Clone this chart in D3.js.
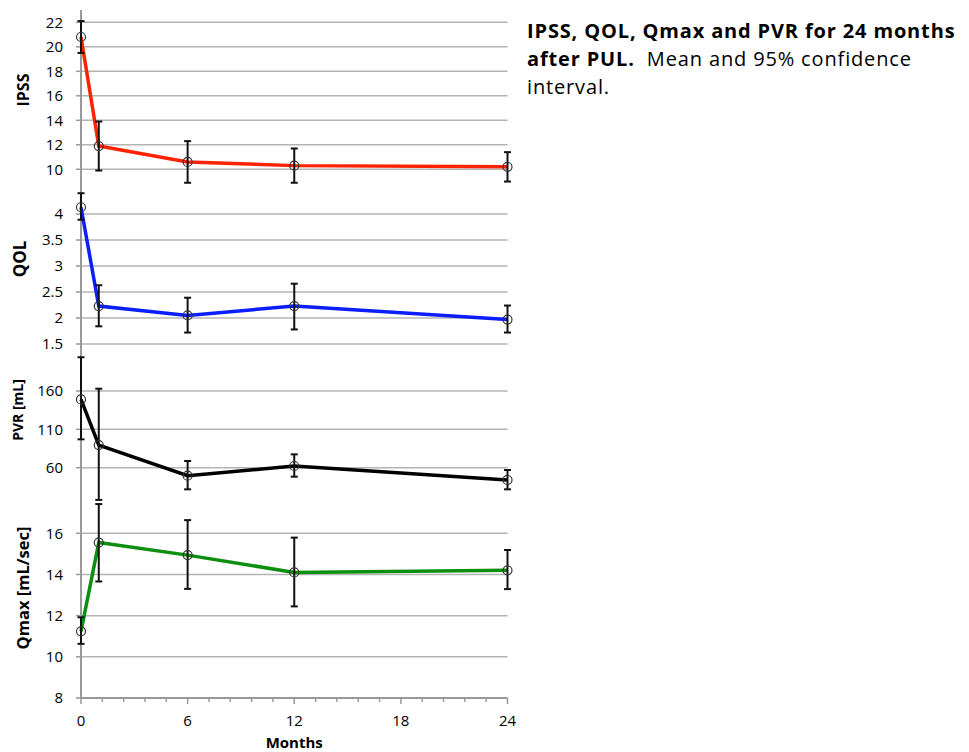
<!DOCTYPE html>
<meta charset="utf-8">
<head>
  <title>IPSS, QOL, Qmax and PVR after PUL</title>
</head>

<style>
body { margin: 0; background: #fff; }
text {
  font-family: "Open Sans", Lato, sans-serif;
  fill: #000;
}
.grid line { stroke: #b4b4b4; stroke-width: 1.5; }
.tick-label { font-size: 15px; }
.axis-title { font-weight: bold; }
.err { stroke: #111; stroke-width: 2; fill: none; }
.dot { fill: none; stroke: #333; stroke-width: 1.2; }
.caption { font-size: 20px; letter-spacing: 0.85px; }
</style>

<body>
  <svg width="969" height="752"></svg>

  <script src="https://d3js.org/d3.v7.min.js"></script>
  <script>
// months of follow-up
var months = [0, 1, 6, 12, 24];

var ipss     = [20.8, 11.9, 10.6, 10.3, 10.2];
var ipssLow  = [19.5, 9.9, 8.9, 8.9, 9.0];
var ipssHigh = [22.1, 13.9, 12.3, 11.7, 11.4];

var qol     = [4.13, 2.23, 2.05, 2.23, 1.97];
var qolLow  = [3.89, 1.84, 1.72, 1.78, 1.72];
var qolHigh = [4.40, 2.63, 2.39, 2.66, 2.24];

var pvr     = [149, 89.5, 49.6, 62.2, 44];
var pvrLow  = [97, 18, 31.8, 48.3, 31.8];
var pvrHigh = [204, 163, 68.7, 77.4, 57];

var qmax     = [11.24, 15.55, 14.94, 14.1, 14.2];
var qmaxLow  = [10.63, 13.66, 13.3, 12.45, 13.29];
var qmaxHigh = [11.92, 17.42, 16.64, 15.79, 15.19];

var ipssTicks = [10, 12, 14, 16, 18, 20, 22];
var qolTicks = [1.5, 2, 2.5, 3, 3.5, 4];
var pvrTicks = [60, 110, 160];
var qmaxTicks = [8, 10, 12, 14, 16];
var monthTicks = [0, 6, 12, 18, 24];

var svg = d3.select('svg');

var x = d3.scaleLinear().domain([0, 24]).range([81, 507.5]);

var panels = [
  { name: 'IPSS', mean: ipss, lo: ipssLow, hi: ipssHigh, ticks: ipssTicks,
    domain: [10, 22], range: [169.3, 22.3], color: '#ff2200', fmt: d3.format('d'),
    labelX: 29, labelY: 90, labelSize: 16 },
  { name: 'QOL', mean: qol, lo: qolLow, hi: qolHigh, ticks: qolTicks,
    domain: [1.5, 4], range: [344, 214], color: '#0a1eff', fmt: function(d) { return String(d); },
    labelX: 26, labelY: 259, labelSize: 17 },
  { name: 'PVR [mL]', mean: pvr, lo: pvrLow, hi: pvrHigh, ticks: pvrTicks,
    domain: [60, 160], range: [467.7, 391], color: '#000000', fmt: d3.format('d'),
    labelX: 23, labelY: 410, labelSize: 14 },
  { name: 'Qmax [mL/sec]', mean: qmax, lo: qmaxLow, hi: qmaxHigh, ticks: qmaxTicks,
    domain: [8, 16], range: [698, 533.3], color: '#0e8e0e', fmt: d3.format('d'),
    labelX: 29, labelY: 588, labelSize: 16.5 }
];

// gridlines and y labels first
panels.forEach(function(p) {
  p.y = d3.scaleLinear().domain(p.domain).range(p.range);
  var g = svg.append('g').attr('class', 'grid');
  g.selectAll('line')
    .data(p.ticks.filter(function(t) { return t !== 8; }))
    .enter().append('line')
    .attr('x1', x(0)).attr('x2', x(24))
    .attr('y1', function(d) { return p.y(d); })
    .attr('y2', function(d) { return p.y(d); });

  svg.append('g').selectAll('line')
    .data(p.ticks)
    .enter().append('line')
    .attr('x1', x(0) - 5).attr('x2', x(0))
    .attr('y1', function(d) { return p.y(d); })
    .attr('y2', function(d) { return p.y(d); })
    .attr('stroke', '#999').attr('stroke-width', 1.5);

  svg.append('g').selectAll('text')
    .data(p.ticks)
    .enter().append('text')
    .attr('class', 'tick-label')
    .attr('x', 63)
    .attr('y', function(d) { return p.y(d); })
    .attr('dy', '0.35em')
    .attr('text-anchor', 'end')
    .text(p.fmt);

  svg.append('text')
    .attr('class', 'axis-title')
    .style('font-size', p.labelSize + 'px')
    .attr('transform', 'translate(' + p.labelX + ',' + p.labelY + ') rotate(-90)')
    .attr('text-anchor', 'middle')
    .text(p.name);
});

// vertical axis line and x axis
svg.append('line')
  .attr('x1', x(0)).attr('x2', x(0))
  .attr('y1', 10).attr('y2', 698)
  .attr('stroke', '#999').attr('stroke-width', 2);

svg.append('line')
  .attr('x1', x(0)).attr('x2', x(24))
  .attr('y1', 698).attr('y2', 698)
  .attr('stroke', '#999').attr('stroke-width', 2);

svg.append('g').selectAll('line')
  .data(d3.range(0, 24.01, 1.2))
  .enter().append('line')
  .attr('x1', function(d) { return x(d); })
  .attr('x2', function(d) { return x(d); })
  .attr('y1', 698)
  .attr('y2', function(d) { return (Math.round(d * 10) % 60 === 0) ? 704 : 702; })
  .attr('stroke', '#999').attr('stroke-width', 1.5);

svg.append('g').selectAll('text')
  .data(monthTicks)
  .enter().append('text')
  .attr('class', 'tick-label')
  .attr('x', function(d) { return x(d); })
  .attr('y', 726)
  .attr('text-anchor', 'middle')
  .text(function(d) { return d; });

svg.append('text')
  .attr('class', 'axis-title')
  .style('font-size', '15px')
  .attr('x', x(12))
  .attr('y', 748)
  .attr('text-anchor', 'middle')
  .text('Months');

// series
panels.forEach(function(p) {
  var pts = months.map(function(m, i) {
    return { m: m, v: p.mean[i], lo: p.lo[i], hi: p.hi[i] };
  });

  var line = d3.line()
    .x(function(d) { return x(d.m); })
    .y(function(d) { return p.y(d.v); });

  svg.append('path')
    .datum(pts)
    .attr('d', line)
    .attr('fill', 'none')
    .attr('stroke', p.color)
    .attr('stroke-width', 3.5);

  var eb = svg.append('g').selectAll('g')
    .data(pts)
    .enter().append('g')
    .attr('class', 'err');

  eb.append('line')
    .attr('x1', function(d) { return x(d.m); })
    .attr('x2', function(d) { return x(d.m); })
    .attr('y1', function(d) { return p.y(d.lo); })
    .attr('y2', function(d) { return p.y(d.hi); });
  eb.append('line')
    .attr('x1', function(d) { return x(d.m) - 3.5; })
    .attr('x2', function(d) { return x(d.m) + 3.5; })
    .attr('y1', function(d) { return p.y(d.lo); })
    .attr('y2', function(d) { return p.y(d.lo); });
  eb.append('line')
    .attr('x1', function(d) { return x(d.m) - 3.5; })
    .attr('x2', function(d) { return x(d.m) + 3.5; })
    .attr('y1', function(d) { return p.y(d.hi); })
    .attr('y2', function(d) { return p.y(d.hi); });

  svg.append('g').selectAll('circle')
    .data(pts)
    .enter().append('circle')
    .attr('class', 'dot')
    .attr('cx', function(d) { return x(d.m); })
    .attr('cy', function(d) { return p.y(d.v); })
    .attr('r', 4.5);
});

// caption
svg.append('text')
  .attr('class', 'caption')
  .attr('x', 527)
  .attr('y', 38)
  .style('font-weight', 'bold')
  .text('IPSS, QOL, Qmax and PVR for 24 months');
var l2 = svg.append('text')
  .attr('class', 'caption')
  .attr('x', 527)
  .attr('y', 66);
l2.append('tspan').style('font-weight', 'bold').text('after PUL.');
l2.append('tspan').text('\u00a0 Mean and 95% confidence');
svg.append('text')
  .attr('class', 'caption')
  .attr('x', 527)
  .attr('y', 94)
  .text('interval.');
  </script>
</body>
</html>
